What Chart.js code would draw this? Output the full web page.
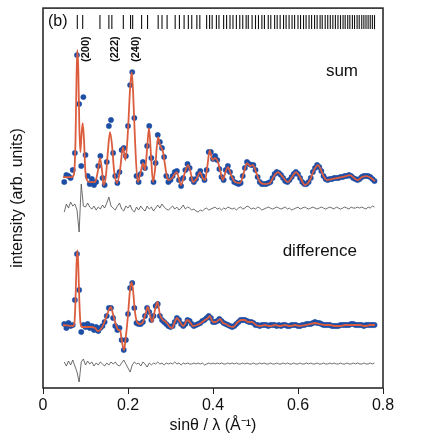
<!DOCTYPE html>
<html>
<head>
<meta charset="utf-8">
<script src="https://cdn.jsdelivr.net/npm/chart.js@4.4.1/dist/chart.umd.min.js"></script>
<style>
  html, body { margin: 0; padding: 0; background: #fff; }
</style>
</head>
<body>
<canvas id="js--chart" width="436" height="436"></canvas>
<script>
// observed points sit on an even grid in sinθ/λ
const qStart = 0.05;
const qStep = 0.005;

const obsSum = [
  206, 213, 212, 210, 218, 235, 333, 284, 222, 291,
  233, 212, 204, 209, 203, 206, 222, 232, 210, 203,
  226, 262, 268, 235, 212, 205, 216, 238, 240, 232,
  262, 303, 316, 270, 212, 206, 214, 226, 220, 242,
  262, 230, 206, 225, 253, 246, 240, 231, 212, 206,
  208, 212, 216, 217, 208, 202, 210, 218, 224, 220,
  209, 206, 209, 214, 217, 212, 208, 218, 236, 236,
  229, 232, 228, 219, 211, 208, 218, 222, 216, 210,
  206, 205, 204, 205, 212, 220, 226, 224, 223, 223,
  218, 211, 206, 204, 204, 204, 205, 206, 210, 214,
  216, 215, 213, 210, 207, 206, 208, 211, 214, 216,
  214, 210, 206, 204, 204, 206, 210, 216, 220, 223,
  221, 217, 212, 209, 208, 209, 209, 210, 210, 210,
  211, 211, 212, 212, 213, 212, 210, 209, 208, 209,
  211, 212, 212, 212, 211, 209, 207
];

const diffSum = [
  176, 184, 180, 186, 182, 184, 178, 156, 204, 182,
  181, 185, 181, 179, 182, 178, 181, 179, 183, 180,
  185, 191, 182, 180, 178, 182, 185, 179, 177, 182,
  180, 183, 178, 176, 181, 178, 182, 179, 177, 182,
  179, 181, 177, 180, 183, 180, 184, 181, 179, 178,
  180, 182, 179, 181, 178, 180, 183, 179, 181, 180,
  178, 179, 177, 176, 178, 177, 179, 180, 178, 179,
  180, 181, 179, 180, 178, 180, 179, 181, 180, 179,
  180, 178, 180, 181, 179, 180, 182, 181, 179, 180,
  179, 181, 180, 178, 179, 180, 181, 180, 179, 180,
  181, 180, 179, 180, 181, 179, 180, 178, 179, 180,
  181, 179, 180, 181, 180, 179, 180, 181, 180, 179,
  180, 181, 180, 179, 180, 181, 180, 179, 181, 180,
  179, 180, 181, 180, 179, 181, 180, 180, 181, 180,
  181, 180, 179, 181, 180, 182, 181
];

const fitSumQ = [
  0.047, 0.068, 0.073, 0.0765, 0.0788, 0.0807, 0.0831, 0.0854, 0.0878, 0.0906,
  0.0934, 0.0965, 0.0995, 0.1035, 0.1106, 0.1224, 0.1287, 0.1341, 0.1388, 0.1424,
  0.1482, 0.1529, 0.1576, 0.1624, 0.1671, 0.1741, 0.1812, 0.1882, 0.1941, 0.2,
  0.2047, 0.2087, 0.2118, 0.2165, 0.2228, 0.2282, 0.2353, 0.24, 0.2447, 0.2494,
  0.2541, 0.2588, 0.2635, 0.2706, 0.2753, 0.2824, 0.2871, 0.2941, 0.3035, 0.3146,
  0.3247, 0.3341, 0.3412, 0.3471, 0.3529, 0.3624, 0.3694, 0.3758, 0.3812, 0.3871,
  0.3922, 0.3988, 0.4047, 0.4118, 0.4176, 0.4235, 0.4294, 0.4353, 0.4424, 0.4518,
  0.4635, 0.4729, 0.48, 0.4871, 0.4941, 0.5012, 0.5106, 0.5224, 0.5341, 0.5435,
  0.5529, 0.5624, 0.5765, 0.5859, 0.5953, 0.6047, 0.6165, 0.6282, 0.6376, 0.6471,
  0.6541, 0.6612, 0.6682, 0.68, 0.6918, 0.7035, 0.7129, 0.7224, 0.7318, 0.7412,
  0.7506, 0.7624, 0.7718, 0.7812
];
const fitSumI = [
  211, 211, 214, 248, 308, 338, 318, 263, 236, 253,
  265, 248, 218, 208, 206, 206, 216, 230, 218, 203,
  213, 238, 256, 243, 218, 205, 218, 241, 228, 258,
  298, 316, 298, 248, 206, 213, 225, 218, 238, 260,
  233, 206, 218, 251, 243, 236, 223, 208, 210, 216,
  203, 216, 223, 216, 206, 210, 216, 210, 208, 223,
  238, 228, 230, 226, 216, 208, 216, 221, 213, 206,
  205, 216, 225, 222, 223, 216, 206, 204, 205, 212,
  216, 212, 206, 211, 216, 211, 203, 208, 218, 223,
  218, 211, 208, 209, 210, 211, 212, 213, 210, 208,
  211, 212, 210, 207
];

const obsDiff = [
  64, 60, 65, 62, 63, 88, 134, 98, 56, 63,
  61, 64, 60, 62, 58, 61, 57, 60, 62, 66,
  72, 80, 80, 70, 62, 58, 60, 48, 38, 48,
  74, 100, 105, 80, 65, 64, 64, 66, 72, 80,
  76, 68, 72, 82, 84, 72, 68, 66, 64, 62,
  61, 62, 66, 70, 68, 64, 62, 64, 68, 67,
  64, 62, 63, 64, 65, 67, 68, 70, 72, 70,
  66, 66, 67, 69, 67, 65, 64, 63, 62, 61,
  62, 64, 66, 68, 68, 68, 67, 66, 66, 65,
  63, 63, 62, 63, 63, 63, 62, 63, 63, 63,
  62, 63, 62, 63, 63, 62, 62, 63, 63, 63,
  62, 62, 63, 63, 64, 64, 64, 65, 66, 65,
  65, 64, 63, 63, 63, 63, 62, 62, 62, 62,
  63, 63, 63, 63, 63, 64, 64, 63, 63, 63,
  63, 62, 63, 63, 63, 63, 63
];

const diffDiff = [
  26, 22, 27, 23, 28, 22, 16, 6, 26, 29,
  23, 27, 24, 26, 22, 25, 23, 26, 24, 22,
  25, 23, 26, 24, 26, 23, 22, 25, 28, 24,
  20, 16, 23, 26, 24, 25, 22, 26, 24, 21,
  25, 23, 25, 24, 26, 24, 25, 23, 25, 24,
  25, 24, 26, 24, 25, 23, 25, 24, 25, 24,
  24, 25, 24, 25, 24, 25, 23, 24, 25, 24,
  25, 24, 25, 24, 25, 24, 24, 25, 24, 25,
  24, 25, 24, 24, 25, 24, 25, 24, 24, 25,
  24, 24, 25, 24, 25, 24, 24, 25, 24, 24,
  25, 24, 24, 25, 24, 25, 24, 24, 25, 24,
  24, 25, 24, 24, 25, 24, 25, 24, 24, 25,
  24, 24, 25, 24, 24, 25, 24, 25, 24, 24,
  25, 24, 24, 25, 24, 24, 25, 24, 25, 24,
  24, 25, 24, 24, 25, 24, 25
];

const fitDiffQ = [
  0.047, 0.0706, 0.0741, 0.0765, 0.0788, 0.0807, 0.0828, 0.0854, 0.0882, 0.0918,
  0.1106, 0.1224, 0.1287, 0.1365, 0.1428, 0.1522, 0.1593, 0.164, 0.1718, 0.1776,
  0.1812, 0.1852, 0.1906, 0.1946, 0.2, 0.2047, 0.2087, 0.2118, 0.2165, 0.2212,
  0.2282, 0.2353, 0.2424, 0.2464, 0.2518, 0.2565, 0.2635, 0.2694, 0.2753, 0.2824,
  0.2894, 0.2965, 0.3035, 0.31, 0.3153, 0.3224, 0.3294, 0.3341, 0.3388, 0.3459,
  0.3529, 0.3624, 0.3718, 0.3812, 0.3882, 0.3922, 0.4, 0.4071, 0.4165, 0.4235,
  0.4306, 0.4376, 0.4471, 0.4565, 0.4659, 0.4753, 0.4824, 0.4918, 0.5012, 0.5106,
  0.5224, 0.5341, 0.5459, 0.5576, 0.5694, 0.5812, 0.5929, 0.6047, 0.6165, 0.6282,
  0.64, 0.6518, 0.6635, 0.6753, 0.6871, 0.6988, 0.7106, 0.7224, 0.7341, 0.7459,
  0.7576, 0.7694, 0.7812
];
const fitDiffI = [
  63, 62, 66, 88, 123, 138, 126, 88, 65, 61,
  61, 60, 57, 59, 64, 75, 81, 75, 63, 58,
  58, 48, 38, 50, 73, 98, 106, 98, 76, 66,
  64, 66, 76, 81, 73, 66, 78, 86, 73, 68,
  66, 62, 60, 66, 70, 66, 62, 64, 68, 66,
  62, 63, 65, 68, 70, 72, 66, 66, 69, 65,
  64, 62, 61, 65, 68, 68, 66, 66, 63, 62,
  63, 62, 63, 62, 63, 62, 63, 62, 63, 64,
  65, 64, 63, 63, 62, 62, 63, 63, 63, 63,
  62, 63, 63
];

// reflection positions (tick row at the top)
const reflQ = [
  0.0807, 0.0934, 0.134, 0.155, 0.162, 0.189, 0.206, 0.211, 0.232, 0.246,
  0.271, 0.280, 0.292, 0.311, 0.321, 0.332, 0.342, 0.350, 0.362, 0.369,
  0.385, 0.392, 0.398, 0.408, 0.414, 0.425, 0.432, 0.440, 0.447, 0.455,
  0.463, 0.470, 0.478, 0.483, 0.492, 0.500, 0.507, 0.515, 0.521, 0.530,
  0.536, 0.545, 0.551, 0.558, 0.566, 0.572, 0.579, 0.586, 0.592, 0.600,
  0.606, 0.613, 0.619, 0.626, 0.632, 0.639, 0.645, 0.652, 0.657, 0.664,
  0.670, 0.676, 0.682, 0.688, 0.694, 0.700, 0.706, 0.711, 0.717, 0.722,
  0.728, 0.733, 0.739, 0.744, 0.750, 0.755, 0.760, 0.765, 0.770, 0.775, 0.780
];
const hklLabels = ["(200)", "(222)", "(240)"];
const hklQ = [0.0934, 0.162, 0.211];

const xTicks = [0, 0.2, 0.4, 0.6, 0.8];

const FONT = "'Liberation Sans', Arial, Helvetica, sans-serif";
const BLUE = "#1c4ea6";
const RED = "#dc5d3e";
const GREY = "#4a4a4a";

function onGrid(values) {
  return values.map(function (v, i) { return { x: qStart + i * qStep, y: v }; });
}
function pairUp(qs, vs) {
  return qs.map(function (q, i) { return { x: q, y: vs[i] }; });
}

function fitLine(points) {
  return {
    type: "line", data: points, order: 1,
    borderColor: RED, borderWidth: 1.8, pointRadius: 0,
    cubicInterpolationMode: "monotone"
  };
}
function obsDots(points) {
  return {
    type: "scatter", data: points, order: 2,
    backgroundColor: BLUE, borderColor: "rgba(28,78,166,0.35)",
    borderWidth: 1, pointRadius: 2.7
  };
}
function greyLine(points) {
  return {
    type: "line", data: points, order: 3,
    borderColor: GREY, borderWidth: 0.8, pointRadius: 0, tension: 0
  };
}

// frame and the text inside the plot
const decorations = {
  id: "decorations",
  afterDraw(chart) {
    const ctx = chart.ctx;
    const a = chart.chartArea;
    const xs = chart.scales.x;
    ctx.save();
    ctx.strokeStyle = "#2b2b2b";
    ctx.lineWidth = 1.6;
    ctx.strokeRect(a.left, a.top, a.right - a.left, a.bottom - a.top);

    ctx.fillStyle = "#111";
    ctx.textBaseline = "middle";
    ctx.font = "16px " + FONT;
    ctx.textAlign = "left";
    ctx.fillText("(b)", a.left + 5, 22);
    ctx.font = "17px " + FONT;
    ctx.textAlign = "right";
    ctx.fillText("sum", a.right - 25, 71);
    ctx.fillText("difference", a.right - 26, 251);

    ctx.font = "bold 11px " + FONT;
    ctx.textAlign = "left";
    hklLabels.forEach(function (t, i) {
      ctx.save();
      ctx.translate(xs.getPixelForValue(hklQ[i]) + 3.5, 62);
      ctx.rotate(-Math.PI / 2);
      ctx.fillText(t, 0, 0);
      ctx.restore();
    });
    ctx.restore();
  }
};

Chart.defaults.font.family = FONT;
Chart.defaults.color = "#111";

new Chart(document.getElementById("js--chart"), {
  data: {
    datasets: [
      fitLine(pairUp(fitSumQ, fitSumI)),
      obsDots(onGrid(obsSum)),
      greyLine(onGrid(diffSum)),
      fitLine(pairUp(fitDiffQ, fitDiffI)),
      obsDots(onGrid(obsDiff)),
      greyLine(onGrid(diffDiff)),
      {
        type: "scatter", order: 0,
        data: reflQ.map(function (q) { return { x: q, y: 366 }; }),
        pointStyle: "line", rotation: 90, pointRadius: 7,
        borderColor: "#111", borderWidth: 1.1
      }
    ]
  },
  options: {
    responsive: false,
    animation: false,
    devicePixelRatio: 1,
    layout: { padding: { top: 8, right: 53, bottom: 0, left: 0 } },
    plugins: { legend: { display: false }, tooltip: { enabled: false } },
    scales: {
      x: {
        type: "linear", min: 0, max: 0.8,
        afterBuildTicks: function (s) { s.ticks = xTicks.map(function (v) { return { value: v }; }); },
        afterFit: function (s) { s.height = 48; },
        ticks: {
          font: { size: 16 }, color: "#111", padding: 2, maxRotation: 0,
          callback: function (v) { return String(+v.toFixed(1)); }
        },
        grid: { drawOnChartArea: false, drawTicks: true, tickLength: 6, tickColor: "#222", tickWidth: 1 },
        border: { display: false },
        title: { display: true, text: "sinθ / λ (Å⁻¹)", font: { size: 16 }, color: "#111", padding: { top: 0, bottom: 1 } }
      },
      y: {
        type: "linear", min: 0, max: 380,
        afterFit: function (s) { s.width = 43; },
        ticks: { display: false },
        grid: { display: false },
        border: { display: false },
        title: { display: true, text: "intensity (arb. units)", font: { size: 16 }, color: "#111", padding: { top: 8, bottom: 0 } }
      }
    }
  },
  plugins: [decorations]
});
</script>
</body>
</html>
